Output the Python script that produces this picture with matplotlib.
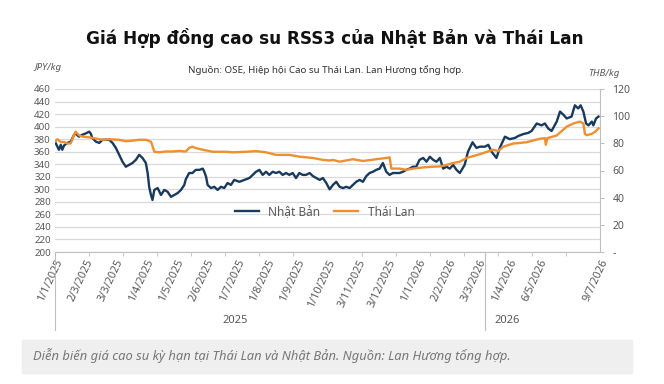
import matplotlib
matplotlib.use("Agg")
import matplotlib.pyplot as plt
import matplotlib.transforms as mtransforms
from matplotlib.patches import Rectangle
import numpy as np

# x positions are in "label slots" (one slot per x tick label step)
jp_x = [0.00, 0.08, 0.13, 0.19, 0.24, 0.30, 0.41, 0.52, 0.63, 0.68, 0.79, 0.90, 1.01, 1.13, 1.18,
        1.23, 1.35, 1.46, 1.57, 1.68, 1.79, 1.90, 2.01, 2.12, 2.23, 2.34, 2.45, 2.56, 2.67, 2.78,
        2.89, 3.00, 3.06, 3.11, 3.17, 3.22, 3.28, 3.39, 3.50, 3.61, 3.72, 3.83, 3.94, 4.05, 4.16,
        4.27, 4.32, 4.43, 4.54, 4.65, 4.77, 4.88, 4.93, 4.99, 5.04, 5.15, 5.26, 5.37, 5.48, 5.59,
        5.70, 5.81, 5.92, 6.09, 6.25, 6.42, 6.53, 6.64, 6.75, 6.86, 6.97, 7.08, 7.19, 7.30, 7.41,
        7.52, 7.63, 7.74, 7.85, 7.96, 8.07, 8.18, 8.29, 8.41, 8.52, 8.63, 8.74, 8.85, 8.96, 9.07,
        9.18, 9.29, 9.40, 9.51, 9.62, 9.73, 9.84, 9.95, 10.06, 10.17, 10.28, 10.39, 10.50, 10.61,
        10.72, 10.83, 10.94, 11.05, 11.16, 11.27, 11.38, 11.49, 11.60, 11.71, 11.82, 11.93, 12.04,
        12.16, 12.27, 12.38, 12.49, 12.60, 12.71, 12.82, 12.93, 13.04, 13.15, 13.26, 13.37, 13.53,
        13.64, 13.79, 13.92, 14.03, 14.20, 14.31, 14.42, 14.58, 14.69, 14.86, 15.02, 15.19, 15.30,
        15.46, 15.63, 15.74, 15.91, 16.07, 16.18, 16.29, 16.40, 16.57, 16.68, 16.79, 16.90, 17.06,
        17.17, 17.28, 17.36, 17.45, 17.54, 17.62, 17.73, 17.78, 17.87, 17.95]
jp_val = [376, 368, 363, 371, 363, 370, 374, 376, 387, 389, 384, 387, 389, 392, 389,
          382, 376, 374, 379, 379, 379, 374, 366, 355, 344, 336, 339, 342, 347, 355,
          350, 342, 326, 304, 291, 283, 299, 302, 291, 299, 296, 288, 291, 294, 299,
          307, 316, 326, 326, 331, 331, 333, 328, 320, 307, 302, 304, 299, 304, 302,
          310, 307, 315, 312, 315, 318, 323, 328, 331, 323, 328, 323, 328, 326, 328,
          323, 326, 323, 326, 318, 326, 323, 323, 326, 321, 318, 315, 318, 310, 300,
          307, 312, 304, 302, 304, 302, 307, 312, 315, 312, 321, 326, 328, 331,
          333, 342, 328, 323, 326, 326, 326, 328, 331, 333, 336, 336, 347,
          350, 344, 352, 347, 344, 350, 333, 336, 333, 339, 331, 326, 339,
          360, 375, 366, 368, 368, 371, 360, 350, 366, 384, 380, 382, 385,
          388, 390, 393, 405, 402, 405, 397, 393, 408, 424, 419, 413, 416,
          434, 429, 434, 424, 405, 402, 408, 402, 413, 416]

th_x = [0.00, 0.08, 0.19, 0.30, 0.41, 0.52, 0.63, 0.68, 0.79, 0.90, 1.13, 1.35, 1.57, 1.79, 2.12,
        2.34, 2.56, 2.78, 3.00, 3.17, 3.22, 3.28, 3.44, 3.66, 3.88, 4.10, 4.32, 4.43, 4.54, 4.65,
        4.88, 5.21, 5.65, 5.87, 6.31, 6.64, 6.97, 7.30, 7.74, 8.07, 8.52, 8.85, 9.07, 9.18, 9.40,
        9.84, 10.17, 10.61, 10.94, 11.05, 11.11, 11.38, 11.60, 11.82, 12.04, 12.38, 12.71, 12.93,
        13.15, 13.37, 13.59, 14.03, 14.47, 14.64, 14.80, 15.13, 15.57, 16.02, 16.18, 16.21, 16.26,
        16.57, 16.90, 17.12, 17.34, 17.45, 17.50, 17.56, 17.73, 17.84, 17.95]
th_val = [81.4, 83.0, 81.0, 81.0, 79.8, 80.0, 86.3, 88.6, 86.0, 85.0, 84.4, 83.5, 82.6, 83.0, 82.6,
          81.5, 82.0, 82.6, 82.6, 81.2, 78.0, 73.8, 73.4, 74.0, 74.0, 74.4, 74.0, 76.6, 77.5, 76.5,
          75.3, 73.8, 73.8, 73.4, 73.8, 74.3, 73.4, 71.5, 71.5, 70.2, 69.2, 67.8, 67.4, 67.8, 66.5,
          68.3, 67.0, 68.3, 69.2, 69.7, 61.4, 61.4, 60.5, 61.4, 62.0, 62.7, 63.0, 64.1,
          65.5, 66.5, 69.2, 72.0, 75.3, 74.3, 77.5, 79.8, 80.8, 83.4, 83.8, 79.0, 83.8,
          85.8, 92.3, 94.6, 96.0, 94.6, 87.0, 86.0, 87.0, 88.6, 91.0]

tick_labels = ["1/1/2025", "2/3/2025", "3/3/2025", "1/4/2025", "1/5/2025", "2/6/2025",
               "1/7/2025", "1/8/2025", "1/9/2025", "1/10/2025", "3/11/2025", "3/12/2025",
               "1/1/2026", "2/2/2026", "3/3/2026", "1/4/2026", "6/5/2026", "9/7/2026"]
tick_slots = list(range(17)) + [18]

navy = "#183a5e"
orange = "#ef8f2f"
gray_txt = "#595959"
grid_c = "#d9d9d9"

plt.rcParams["font.family"] = ["Noto Sans", "DejaVu Sans"]

fig = plt.figure(figsize=(6.64, 3.84), dpi=100)
ax = fig.add_axes([55 / 664, 1 - 252 / 384, 545 / 664, 163 / 384])
ax2 = ax.twinx()

ax.plot(jp_x, jp_val, color=navy, lw=1.7, label="Nhật Bản", zorder=3)
ax2.plot(th_x, th_val, color=orange, lw=1.7, label="Thái Lan", zorder=2)

ax.set_xlim(0, 18)
ax.set_ylim(200, 460)
ax.set_yticks(np.arange(200, 461, 20))
ax2.set_ylim(0, 120)
ax2.set_yticks(np.arange(0, 121, 20))
ax2.set_yticklabels(["-"] + [str(v) for v in range(20, 121, 20)])

ax.grid(axis="y", color=grid_c, lw=0.9)
ax.set_axisbelow(True)
for s in ["top", "left"]:
    ax.spines[s].set_visible(False)
    ax2.spines[s].set_visible(False)
ax.spines["right"].set_visible(False)
ax2.spines["bottom"].set_visible(False)
ax.spines["bottom"].set_color("#bfbfbf")
ax2.spines["right"].set_color("#bfbfbf")

ax.tick_params(axis="y", length=0, labelsize=7, labelcolor=gray_txt, pad=3)
ax2.tick_params(axis="y", length=3, color="#bfbfbf", labelsize=7.5, labelcolor=gray_txt, pad=6)

ax.set_xticks(tick_slots)
ax.set_xticklabels(tick_labels, rotation=65, ha="right", va="top",
                   rotation_mode="anchor", fontsize=7.8, color=gray_txt)
ax.tick_params(axis="x", length=0, pad=4)
ax.set_xticks(np.linspace(0, 18, 17), minor=True)
ax.tick_params(axis="x", which="minor", length=3, color="#bfbfbf")

# year grouping under the dates
trans = mtransforms.blended_transform_factory(ax.transData, ax.transAxes)
for xd in [0, 14.2]:
    ax.plot([xd, xd], [0, -0.48], transform=trans, color="#bfbfbf", lw=0.8, clip_on=False)
ax.text(5.96, -0.42, "2025", transform=trans, ha="center", va="center", fontsize=8, color=gray_txt)
ax.text(14.92, -0.42, "2026", transform=trans, ha="center", va="center", fontsize=8, color=gray_txt)

h1, l1 = ax.get_legend_handles_labels()
h2, l2 = ax2.get_legend_handles_labels()
ax.legend(h1 + h2, l1 + l2, loc="center", bbox_to_anchor=(0.495, 0.245), ncol=2,
          frameon=False, fontsize=8.5, handlelength=2.0, columnspacing=1.2,
          labelcolor=gray_txt)

fig.text(335 / 664, 1 - 38 / 384, "Giá Hợp đồng cao su RSS3 của Nhật Bản và Thái Lan",
         ha="center", va="center", fontsize=12.2, fontweight="bold", color="#111111",
         family="DejaVu Sans")
fig.text(326 / 664, 1 - 70 / 384, "Nguồn: OSE, Hiệp hội Cao su Thái Lan. Lan Hương tổng hợp.",
         ha="center", va="center", fontsize=7, color="#333333")
fig.text(48 / 664, 1 - 68 / 384, "JPY/kg", ha="center", va="center", fontsize=7,
         style="italic", color=gray_txt)
fig.text(604 / 664, 1 - 73 / 384, "THB/kg", ha="center", va="center", fontsize=7,
         style="italic", color=gray_txt)

# caption box
fig.patches.append(Rectangle((22 / 664, 1 - 373 / 384), 610 / 664, 33 / 384,
                             transform=fig.transFigure, color="#efefef", zorder=0))
fig.text(33 / 664, 1 - 356 / 384,
         "Diễn biến giá cao su kỳ hạn tại Thái Lan và Nhật Bản. Nguồn: Lan Hương tổng hợp.",
         ha="left", va="center", fontsize=9.3, style="italic", color="#777777")

fig.savefig("out.png", dpi=100)
